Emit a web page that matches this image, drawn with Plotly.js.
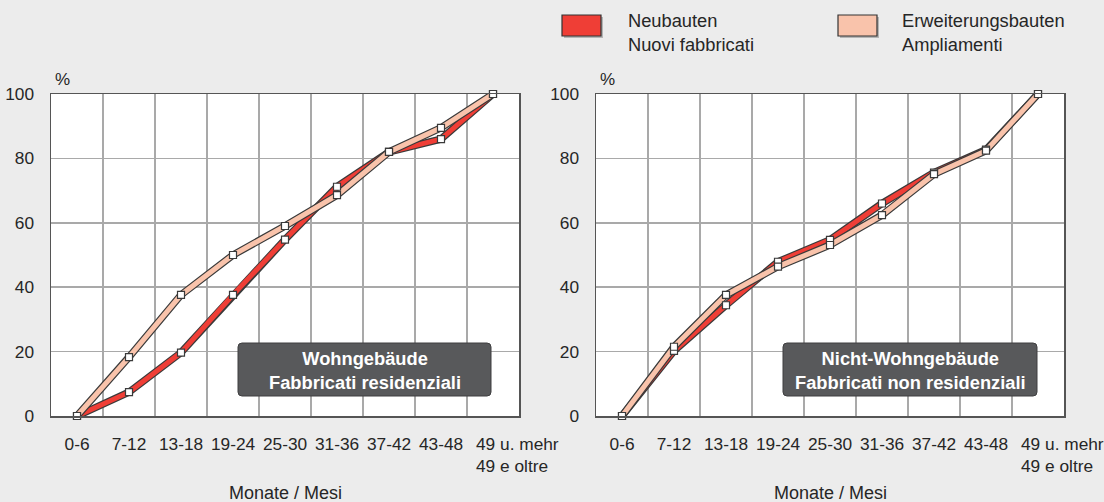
<!DOCTYPE html>
<html>
<head>
<meta charset="utf-8">
<script src="https://cdn.plot.ly/plotly-3.0.1.min.js"></script>
<style>
html,body{margin:0;padding:0;background:#ececec;}
#chart{width:1104px;height:502px;}
</style>
</head>
<body>
<div id="chart"></div>
<script>
// ---- data ----
const categories = ['0-6','7-12','13-18','19-24','25-30','31-36','37-42','43-48','49+'];
const tickLabels = ['0-6','7-12','13-18','19-24','25-30','31-36','37-42','43-48','49 u. mehr<br>49 e oltre'];
const wohnNeubauten = [0, 7.4, 19.7, 37.6, 54.8, 71.2, 82.0, 86.0, 100];
const wohnErweiterung = [0, 18.3, 37.6, 50.0, 59.0, 68.6, 82.0, 89.5, 100];
const nichtWohnNeubauten = [0, 20.2, 34.4, 47.9, 54.7, 66.0, 75.6, 82.7, 100];
const nichtWohnErweiterung = [0, 21.5, 37.6, 46.4, 53.1, 62.4, 75.1, 82.4, 100];
const yTickValues = [0, 20, 40, 60, 80, 100];
const seriesNames = ['Neubauten<br>Nuovi fabbricati', 'Erweiterungsbauten<br>Ampliamenti'];
const panelTitles = ['Wohngebäude<br>Fabbricati residenziali', 'Nicht-Wohngebäude<br>Fabbricati non residenziali'];
const xTitle = 'Monate / Mesi';

// ---- styles ----
const RED = '#ef3e36', LIGHT = '#f9c3ab', OUTLINE = '#3a3a3a';
const FONT = 'Liberation Sans, Arial, Helvetica, sans-serif';
const TXT = '#262626';
const W = 1104, H = 502;
const px = v => v / W, py = v => (H - v) / H;
const lastIdx = categories.length - 1;

function seriesTraces(y, color, xa, ya) {
  return [
    {x: categories, y: y, xaxis: xa, yaxis: ya, type: 'scatter', mode: 'lines',
     line: {color: OUTLINE, width: 7.4}, hoverinfo: 'skip', showlegend: false, cliponaxis: false},
    {x: categories, y: y, xaxis: xa, yaxis: ya, type: 'scatter', mode: 'lines',
     line: {color: color, width: 5}, hoverinfo: 'skip', showlegend: false, cliponaxis: false}
  ];
}
function markerTrace(y, xa, ya) {
  return {x: categories, y: y, xaxis: xa, yaxis: ya, type: 'scatter', mode: 'markers',
    marker: {symbol: 'square', size: 7, color: '#ffffff', line: {color: OUTLINE, width: 1.2}},
    hoverinfo: 'skip', showlegend: false, cliponaxis: false};
}

const data = [
  ...seriesTraces(wohnNeubauten, RED, 'x', 'y'),
  ...seriesTraces(wohnErweiterung, LIGHT, 'x', 'y'),
  markerTrace(wohnNeubauten, 'x', 'y'),
  markerTrace(wohnErweiterung, 'x', 'y'),
  ...seriesTraces(nichtWohnNeubauten, RED, 'x2', 'y2'),
  ...seriesTraces(nichtWohnErweiterung, LIGHT, 'x2', 'y2'),
  markerTrace(nichtWohnNeubauten, 'x2', 'y2'),
  markerTrace(nichtWohnErweiterung, 'x2', 'y2')
];

function xAxis(domain, anchor) {
  return {
    domain: domain, anchor: anchor, type: 'category', range: [-0.5, 8.5],
    tickmode: 'array', tickvals: categories,
    ticktext: tickLabels.map((t, i) => i === lastIdx ? ' ' : t),
    tickson: 'boundaries', showgrid: true, gridcolor: '#a9a9a9', gridwidth: 1.5,
    showline: true, linecolor: '#555555', linewidth: 1.5, mirror: true,
    ticks: 'outside', ticklen: 0, ticklabelstandoff: 12,
    tickfont: {family: FONT, size: 17.3, color: TXT}, zeroline: false, fixedrange: true
  };
}
function yAxis(anchor) {
  return {
    domain: [py(416), py(94)], anchor: anchor, range: [0, 100], tickvals: yTickValues,
    showgrid: true, gridcolor: '#a9a9a9', gridwidth: 1.5, zeroline: false,
    showline: true, linecolor: '#555555', linewidth: 1.5, mirror: true,
    ticks: 'outside', ticklen: 0, ticklabelstandoff: 12,
    tickfont: {family: FONT, size: 17.3, color: TXT}, fixedrange: true
  };
}

function roundRect(x0, y0, x1, y1, r) {
  const rx = r / W, ry = r / H;
  const L = px(x0), R = px(x1), T = py(y0), B = py(y1);
  return `M${L + rx},${B} L${R - rx},${B} Q${R},${B} ${R},${B + ry} L${R},${T - ry} Q${R},${T} ${R - rx},${T} ` +
         `L${L + rx},${T} Q${L},${T} ${L},${T - ry} L${L},${B + ry} Q${L},${B} ${L + rx},${B} Z`;
}

const shapes = [
  {type: 'path', xref: 'paper', yref: 'paper', path: roundRect(238, 343, 491, 396, 4),
   fillcolor: '#58595b', line: {color: '#3f3f40', width: 1}},
  {type: 'path', xref: 'paper', yref: 'paper', path: roundRect(783, 343, 1037, 396, 4),
   fillcolor: '#58595b', line: {color: '#3f3f40', width: 1}},
  {type: 'rect', xref: 'paper', yref: 'paper', x0: px(564), x1: px(603), y0: py(38), y1: py(17),
   fillcolor: '#b5b5b5', line: {width: 0}},
  {type: 'rect', xref: 'paper', yref: 'paper', x0: px(562), x1: px(601), y0: py(36), y1: py(15),
   fillcolor: RED, line: {color: '#333333', width: 1.2}},
  {type: 'rect', xref: 'paper', yref: 'paper', x0: px(840), x1: px(879), y0: py(38), y1: py(17),
   fillcolor: '#b5b5b5', line: {width: 0}},
  {type: 'rect', xref: 'paper', yref: 'paper', x0: px(838), x1: px(877), y0: py(36), y1: py(15),
   fillcolor: LIGHT, line: {color: '#333333', width: 1.2}}
];

const boldLines = t => t.split('<br>').map(s => '<b>' + s + '</b>').join('<br>');

const annotations = [
  {xref: 'paper', yref: 'paper', x: px(364.5), y: py(370), text: boldLines(panelTitles[0]),
   showarrow: false, font: {family: FONT, size: 18.3, color: '#ffffff'}, align: 'center', xanchor: 'center', yanchor: 'middle'},
  {xref: 'paper', yref: 'paper', x: px(910), y: py(370), text: boldLines(panelTitles[1]),
   showarrow: false, font: {family: FONT, size: 18.3, color: '#ffffff'}, align: 'center', xanchor: 'center', yanchor: 'middle'},
  // last category label (left-aligned, as in the original)
  {xref: 'x', yref: 'paper', x: categories[lastIdx], y: py(432), text: tickLabels[lastIdx], showarrow: false,
   xshift: -19, font: {family: FONT, size: 17.3, color: TXT}, xanchor: 'left', yanchor: 'top', align: 'left'},
  {xref: 'x2', yref: 'paper', x: categories[lastIdx], y: py(432), text: tickLabels[lastIdx], showarrow: false,
   xshift: -19, font: {family: FONT, size: 17.3, color: TXT}, xanchor: 'left', yanchor: 'top', align: 'left'},
  {xref: 'paper', yref: 'paper', x: px(53), y: py(80), text: '%', showarrow: false,
   font: {family: FONT, size: 17, color: TXT}, xanchor: 'left', yanchor: 'middle'},
  {xref: 'paper', yref: 'paper', x: px(598), y: py(80), text: '%', showarrow: false,
   font: {family: FONT, size: 17, color: TXT}, xanchor: 'left', yanchor: 'middle'},
  {xref: 'paper', yref: 'paper', x: px(285), y: py(493), text: xTitle, showarrow: false,
   font: {family: FONT, size: 18, color: TXT}, xanchor: 'center', yanchor: 'middle'},
  {xref: 'paper', yref: 'paper', x: px(830), y: py(493), text: xTitle, showarrow: false,
   font: {family: FONT, size: 18, color: TXT}, xanchor: 'center', yanchor: 'middle'},
  {xref: 'paper', yref: 'paper', x: px(626), y: py(32), text: seriesNames[0], showarrow: false,
   font: {family: FONT, size: 18.3, color: TXT}, xanchor: 'left', yanchor: 'middle', align: 'left'},
  {xref: 'paper', yref: 'paper', x: px(900), y: py(32), text: seriesNames[1], showarrow: false,
   font: {family: FONT, size: 18.3, color: TXT}, xanchor: 'left', yanchor: 'middle', align: 'left'}
];

const layout = {
  width: W, height: H, margin: {l: 0, r: 0, t: 0, b: 0},
  paper_bgcolor: '#ececec', plot_bgcolor: '#ffffff', showlegend: false,
  xaxis: xAxis([px(51), px(519)], 'y'),
  yaxis: yAxis('x'),
  xaxis2: xAxis([px(596), px(1064)], 'y2'),
  yaxis2: yAxis('x2'),
  shapes: shapes, annotations: annotations
};

Plotly.newPlot('chart', data, layout, {staticPlot: true, displayModeBar: false});
</script>
</body>
</html>
